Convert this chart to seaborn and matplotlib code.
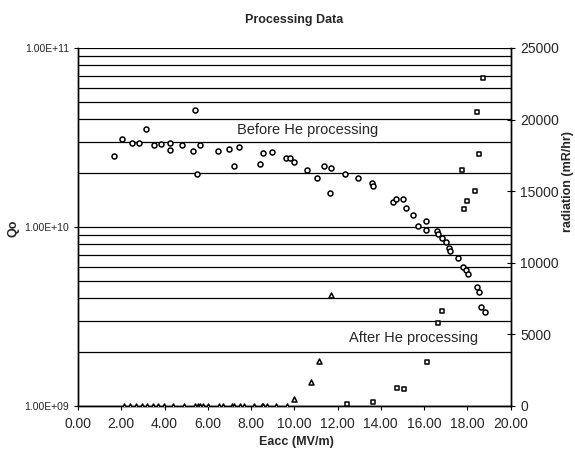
import numpy as np
import pandas as pd
import matplotlib
matplotlib.use("Agg")
import matplotlib.pyplot as plt
from matplotlib.ticker import LogLocator, FuncFormatter, FixedLocator, NullFormatter
import seaborn as sns

# ---- data ----
eacc_q_before = [1.67, 2.04, 2.50, 2.84, 3.13, 3.50, 3.84, 4.26, 4.26, 4.81, 5.31, 5.41, 5.63, 5.50,
                 6.46, 7.00, 7.22, 7.45, 8.42, 8.54, 8.99, 9.62, 9.81, 10.00, 10.61, 11.05, 11.38,
                 11.70, 11.66, 12.36, 12.96, 13.61, 13.66]
qo_before = [2.49e10, 3.11e10, 2.93e10, 2.93e10, 3.55e10, 2.86e10, 2.92e10, 2.93e10, 2.70e10, 2.88e10,
             2.66e10, 4.48e10, 2.88e10, 1.97e10, 2.67e10, 2.71e10, 2.18e10, 2.81e10, 2.25e10, 2.58e10,
             2.62e10, 2.42e10, 2.42e10, 2.30e10, 2.07e10, 1.89e10, 2.19e10, 2.14e10, 1.54e10, 1.99e10,
             1.87e10, 1.77e10, 1.69e10]

eacc_q_after = [14.56, 14.69, 15.05, 15.17, 15.51, 15.71, 16.10, 16.10, 16.59, 16.65, 16.85, 17.01,
                17.15, 17.18, 17.58, 17.82, 17.93, 18.05, 18.44, 18.56, 18.64, 18.83]
qo_after = [1.38e10, 1.44e10, 1.44e10, 1.27e10, 1.16e10, 1.01e10, 1.08e10, 9.66e9, 9.5e9, 9.1e9, 8.7e9,
            8.28e9, 7.62e9, 7.3e9, 6.7e9, 5.97e9, 5.72e9, 5.48e9, 4.62e9, 4.34e9, 3.58e9, 3.33e9]

eacc_rad_before = [2.14, 2.41, 2.68, 2.95, 3.21, 3.46, 3.71, 3.98, 4.41, 4.92, 5.41, 5.54, 5.64, 5.80,
                   6.03, 6.54, 6.72, 7.11, 7.22, 7.49, 7.68, 8.15, 8.50, 8.57, 8.73, 9.16, 9.65, 9.99,
                   10.76, 11.15, 11.69]
rad_before = [0, 0, 0, 0, 0, 0, 0, 0, 0, 0, 0, 0, 0, 0, 0, 0, 0, 0, 0, 0, 0, 0, 0, 0, 0, 0, 0,
              490, 1700, 3140, 7750]

eacc_rad_after = [12.43, 13.66, 14.74, 15.08, 16.13, 16.67, 16.85, 17.75, 17.84, 18.01, 18.35, 18.56,
                  18.47, 18.72]
rad_after = [140, 300, 1235, 1190, 3095, 5775, 6655, 16480, 13780, 14340, 15030, 17600, 20550, 22880]

x_ticks = [0, 2, 4, 6, 8, 10, 12, 14, 16, 18, 20]
rad_ticks = [0, 5000, 10000, 15000, 20000, 25000]

# ---- style ----
sns.set_theme(style="white")
plt.rcParams['font.family'] = ['Liberation Sans', 'DejaVu Sans']

fig = plt.figure(figsize=(5.75, 4.54), dpi=100)
ax = fig.add_axes([78/575, 1-406/454, (510.5-78)/575, (406-48)/454])
ax2 = ax.twinx()

mk = dict(color="white", edgecolor="black", linewidth=1.1, legend=False, zorder=5)
sns.scatterplot(x=eacc_q_before, y=qo_before, ax=ax, marker="o", s=13, **mk)
sns.scatterplot(x=eacc_q_after, y=qo_after, ax=ax, marker="o", s=13, **mk)
sns.scatterplot(x=eacc_rad_before, y=rad_before, ax=ax2, marker="^", s=13, **mk)
sns.scatterplot(x=eacc_rad_after, y=rad_after, ax=ax2, marker="s", s=11, **mk)

# left log axis
ax.set_yscale("log")
ax.set_ylim(1e9, 1e11)
ax.set_xlim(0, 20)
ax.yaxis.set_major_locator(FixedLocator([1e9, 1e10, 1e11]))
ax.yaxis.set_major_formatter(FuncFormatter(lambda v, p: "%.2fE+%02d" % (v / 10**int(round(np.log10(v))), int(round(np.log10(v))))))
ax.yaxis.set_minor_locator(LogLocator(base=10, subs=np.arange(2, 10)))
ax.yaxis.set_minor_formatter(NullFormatter())
ax.grid(True, which="both", axis="y", color="black", linewidth=0.9)
ax.set_axisbelow(True)
ax.tick_params(axis="y", which="major", labelsize=7.5, length=3, width=0.8, color="black", direction="out", left=True)
ax.tick_params(axis="y", which="minor", length=0)

ax.set_xticks(x_ticks)
ax.set_xticklabels(["%.2f" % v for v in x_ticks])
ax.tick_params(axis="x", labelsize=10, length=3, width=0.8, color="black", direction="out", bottom=True, pad=5)

ax2.set_ylim(0, 25000)
ax2.set_yticks(rad_ticks)
ax2.set_yticklabels([str(v) for v in rad_ticks])
ax2.tick_params(axis="y", labelsize=10, length=6, width=0.8, color="black", direction="inout", right=True, pad=4)
ax2.grid(False)

for a in (ax, ax2):
    for side in ("left", "right", "bottom"):
        a.spines[side].set_color("black")
        a.spines[side].set_linewidth(1.0)
    a.spines["top"].set_visible(False)

ax.set_xlabel("Eacc (MV/m)", fontsize=9, fontweight="bold")
ax.xaxis.set_label_coords(0.506, -0.085)
ax.set_ylabel("Qo", fontsize=9, fontweight="bold")
ax.yaxis.set_label_coords(-0.135, 0.497)
ax2.set_ylabel("radiation (mR/hr)", fontsize=9, fontweight="bold")
ax2.yaxis.set_label_coords(1.118, 0.626)
ax.set_title("Processing Data", fontsize=9, fontweight="bold", pad=18)

ax2.text(10.64, 19270, "Before He processing", fontsize=10.5, ha="center", va="center")
ax2.text(15.5, 4750, "After He processing", fontsize=10.5, ha="center", va="center")

fig.savefig("out.png", dpi=100, facecolor="white")
